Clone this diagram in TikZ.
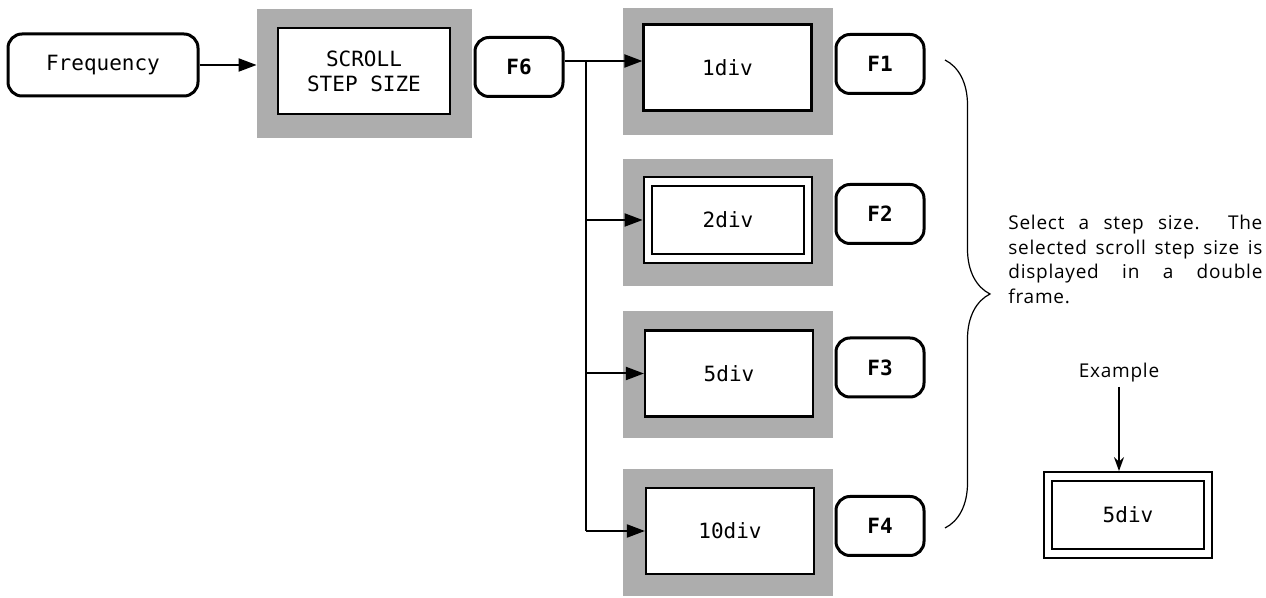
\documentclass[tikz,border=0pt]{standalone}
\usepackage{fontspec}
\setmainfont{Open Sans}
\setmonofont{DejaVu Sans Mono}
\newfontfamily\notefont[LetterSpace=4]{Open Sans}
\usetikzlibrary{arrows.meta,decorations.pathreplacing}

\begin{document}
\begin{tikzpicture}[x=0.5pt,y=-0.5pt,
    keybox/.style={draw, line width=1.5pt, rounded corners=7pt, minimum width=44pt, minimum height=29.5pt, inner sep=0pt, font=\ttfamily\fontsize{10.5}{12}\selectfont},
    fkey/.style={keybox, font=\ttfamily\bfseries\fontsize{10.5}{12}\selectfont},
    halftone/.style={fill=black!32, minimum width=105pt, minimum height=63.5pt, inner sep=0pt},
    menubox/.style={draw, fill=white, line width=1.1pt, minimum width=84pt, minimum height=43pt, inner sep=0pt, font=\ttfamily\fontsize{10.5}{12.5}\selectfont},
    selbox/.style={menubox, line width=1pt, double, double distance=3.3pt, minimum width=80pt, minimum height=38.5pt, outer sep=2.7pt},
    conn/.style={line width=1pt, -{Triangle[length=9pt,width=6.5pt]}},
    note/.style={font=\notefont\fontsize{9.5}{12.25}\selectfont, inner sep=0pt}]
    \useasboundingbox (0,0) rectangle (1266,598);
    \node[keybox, minimum width=95pt, minimum height=31pt] (freq) at (103,65) {Frequency};
    \node[halftone, minimum width=107.5pt, minimum height=64.5pt] (scrollsh) at (364.5,73.5) {};
    \node[menubox, minimum width=86pt, align=center] (scroll) at (364,71) {SCROLL\\STEP SIZE};
    \node[fkey] (f6) at (519,67) {F6};
    \foreach \y/\n in {71.5/1, 222.5/2, 374.5/3, 533/4}
      \node[halftone] (sh\n) at (728,\y) {};
    \node[menubox] (d1) at (727.5,67.5) {1div};
    \node[selbox] (d2) at (728,220) {2div};
    \node[menubox] (d3) at (729,373.5) {5div};
    \node[menubox] (d4) at (730,531) {10div};
    \foreach \y/\n in {64/1, 214/2, 367.5/3, 526/4}
      \node[fkey] (f\n) at (880,\y) {F\n};
    \draw[conn] (freq.east) -- (freq.east -| scrollsh.west);
    \coordinate (split) at (586,61);
    \draw[conn] (f6.east |- split) -- (d1.west |- split);
    \draw[line width=0.8pt] (split) -- (split |- d4.west);
    \foreach \n in {2,3,4}
      \draw[conn] (split |- d\n.west) -- (d\n.west);
    \coordinate (btop) at (945,60);
    \coordinate (bbot) at (945,528);
    \draw[line width=0.6pt, decorate, decoration={brace, amplitude=22.5pt}] (btop) -- (bbot);
    \node[note, anchor=north west, text width=127pt] (expl) at (1008,215) {%
      \hbox to 127pt{Select\hfill a\hfill step\hfill size.\hfill\hfill The}
      \hbox to 127pt{selected\hfill scroll\hfill step\hfill size\hfill is}
      \hbox to 127pt{displayed\hfill in\hfill a\hfill double}
      \hbox{frame.}};
    \node[note, inner sep=2pt] (exlabel) at (1119,373) {Example};
    \node[selbox] (ex) at (1128,515) {5div};
    \draw[line width=0.8pt, -{Stealth[length=7pt,width=5pt]}] (exlabel.south) -- (exlabel.south |- ex.north);
\end{tikzpicture}
\end{document}
